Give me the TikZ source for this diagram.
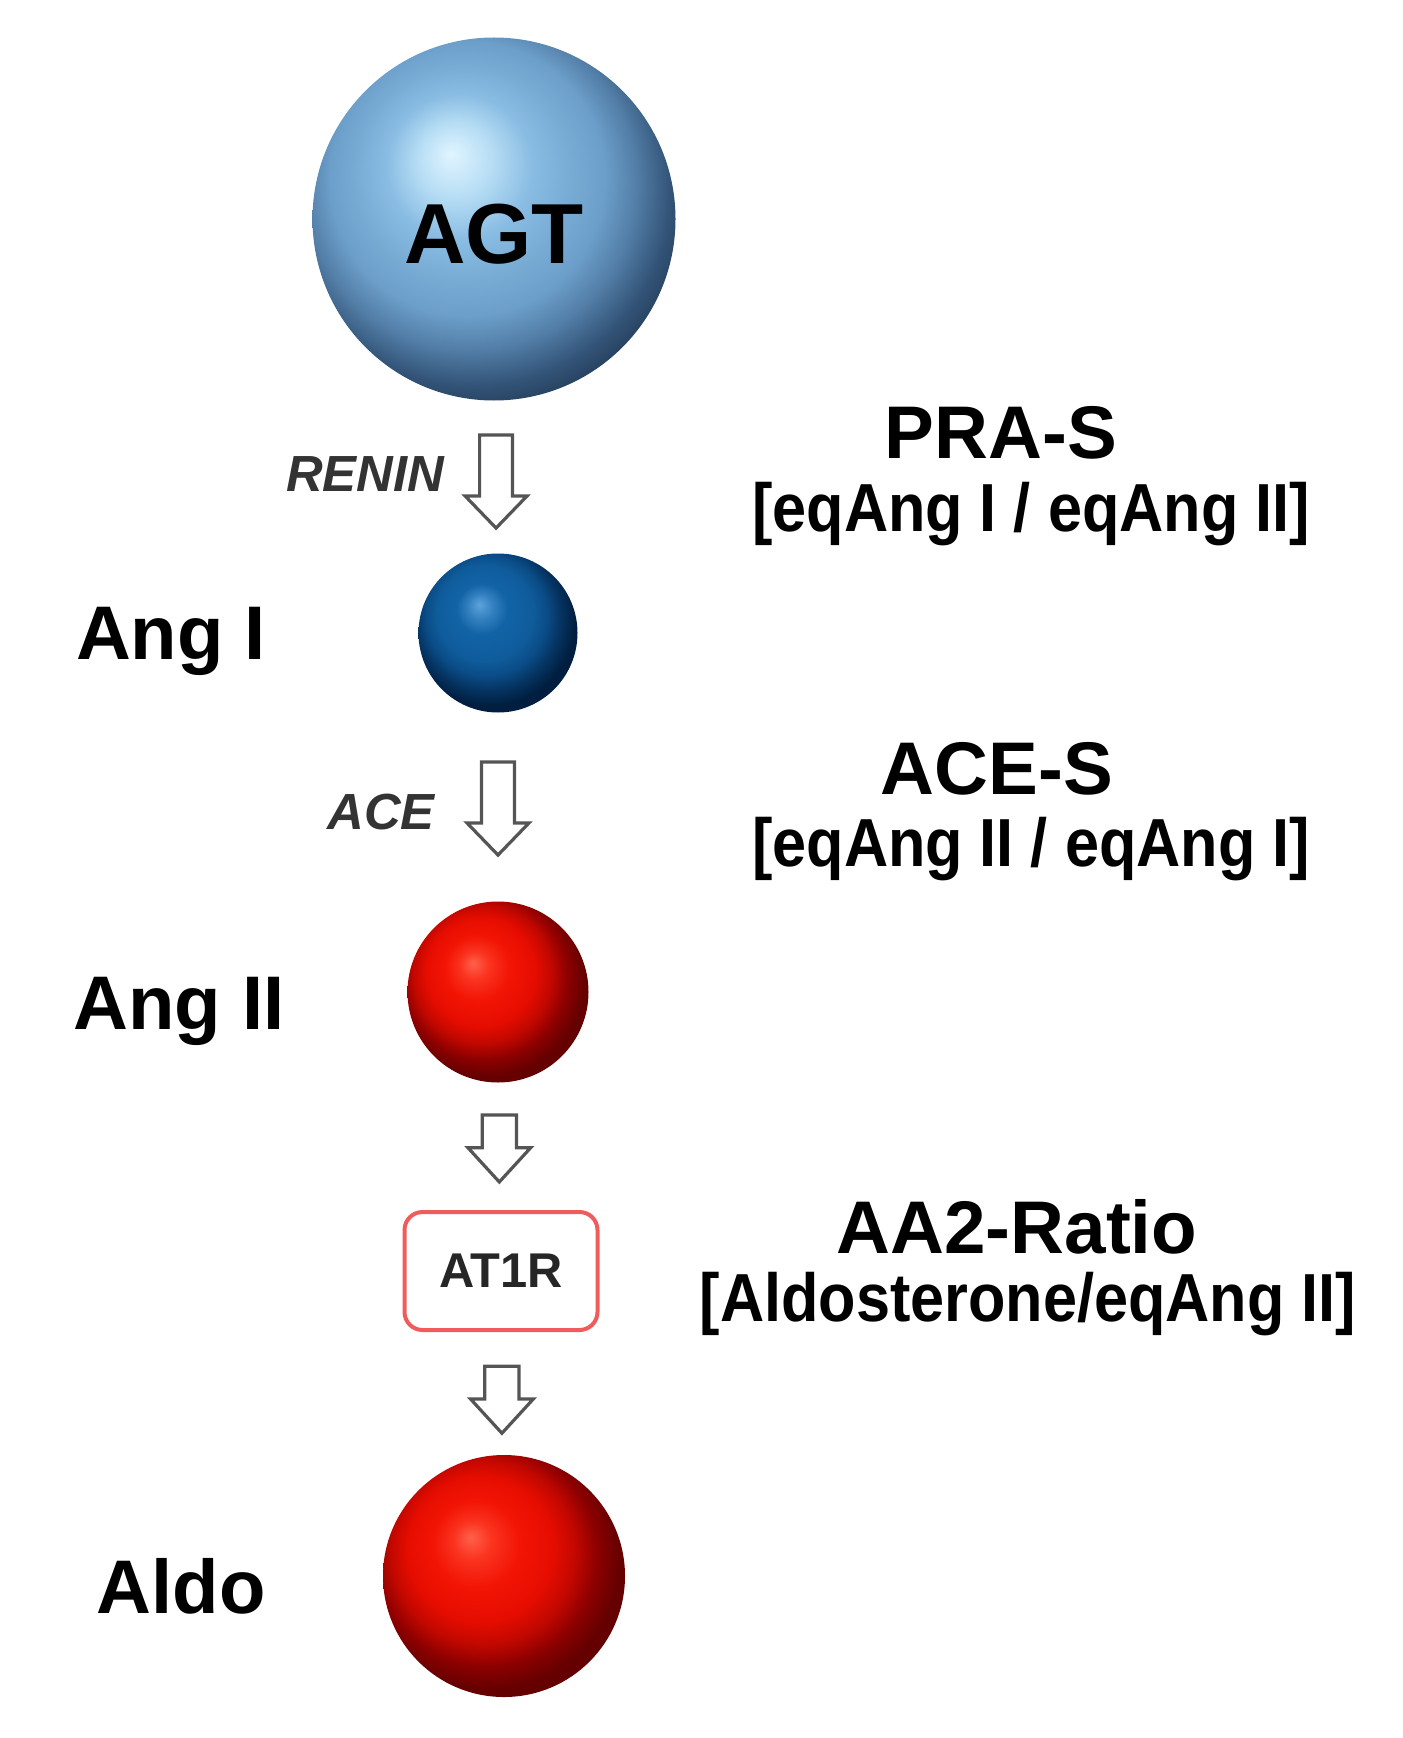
\documentclass[tikz,border=0pt]{standalone}
\usepackage{fontspec}
\setmainfont{Liberation Sans}
\newfontfamily\narrowfont[FakeStretch=0.90]{Liberation Sans}
\usepackage{tikz}
\usetikzlibrary{shapes,arrows}
\usetikzlibrary{calc}
\definecolor{boxred}{RGB}{240,92,92}
\definecolor{arrowgray}{RGB}{85,85,85}
% sphere shadings (light from the upper left)
\pgfdeclareradialshading{agtball}{\pgfpoint{-6bp}{9bp}}{%
    rgb(0bp)=(.88,.96,1); rgb(5bp)=(.72,.87,.96); rgb(10bp)=(.54,.74,.89);
    rgb(15bp)=(.47,.67,.83); rgb(19bp)=(.42,.62,.79); rgb(23bp)=(.32,.49,.65);
    rgb(27bp)=(.2,.33,.47); rgb(31bp)=(.13,.22,.33); rgb(50bp)=(.12,.2,.3)}
\pgfdeclareradialshading{angiball}{\pgfpoint{-6bp}{9bp}}{%
    rgb(0bp)=(.36,.64,.86); rgb(4bp)=(.2,.5,.75); rgb(8bp)=(.07,.39,.65);
    rgb(15bp)=(.06,.36,.61); rgb(19bp)=(.04,.3,.53); rgb(23bp)=(.02,.2,.38);
    rgb(27bp)=(0,.12,.25); rgb(50bp)=(0,.1,.2)}
\pgfdeclareradialshading{redball}{\pgfpoint{-7bp}{8bp}}{%
    rgb(0bp)=(1,.38,.3); rgb(4bp)=(.98,.2,.12); rgb(9bp)=(.95,.08,.02);
    rgb(15bp)=(.9,.05,0); rgb(19bp)=(.76,.03,0); rgb(23bp)=(.55,0,0);
    rgb(27bp)=(.4,0,0); rgb(50bp)=(.35,0,0)}
\tikzstyle{sphere} = [circle, inner sep=0pt]
\tikzstyle{longarrow} = [single arrow, draw=arrowgray, fill=white, line width=1.6pt, rotate=-90,
    anchor=tail, inner xsep=0pt, inner ysep=7.25pt, minimum height=46.5pt, minimum width=31pt,
    single arrow tip angle=88]
\tikzstyle{shortarrow} = [single arrow, draw=arrowgray, fill=white, line width=1.6pt, rotate=-90,
    anchor=tail, inner xsep=0pt, inner ysep=7.75pt, minimum height=33.5pt, minimum width=31pt,
    single arrow tip angle=85]
\tikzstyle{molname} = [font=\bfseries\fontsize{38}{40}\selectfont]
\tikzstyle{enzyme} = [font=\bfseries\itshape\fontsize{25.4}{28}\selectfont, text=black!80]
\tikzstyle{ratio} = [font=\bfseries\fontsize{37.3}{40}\selectfont]
\tikzstyle{formula} = [font=\narrowfont\bfseries\fontsize{34}{38}\selectfont]

\begin{document}
\begin{tikzpicture}[x=0.5pt, y=-0.5pt, node distance=2cm, auto]
    \useasboundingbox (0,0) rectangle (1402,1738);
    % Cascade of spheres
    \node [sphere, shading=agtball, minimum size=181.5pt, text height=44.5pt, text depth=0pt,
        font=\bfseries\fontsize{42.6}{44}\selectfont] (agt) at (494,219) {AGT};
    \node [sphere, shading=angiball, minimum size=79.5pt, below of=agt, node distance=207pt, xshift=2pt] (angi) {};
    \node [sphere, shading=redball, minimum size=90.5pt, below of=angi, node distance=179.5pt] (angii) {};
    \node [rectangle, draw=boxred, line width=2pt, rounded corners=9pt, minimum width=96.5pt,
        minimum height=59pt, text=black!85, font=\bfseries\fontsize{24.4}{26}\selectfont,
        below of=angii, node distance=139.5pt, xshift=1.5pt] (at1r) {AT1R};
    \node [sphere, shading=redball, minimum size=121pt, below of=at1r, node distance=152.5pt, xshift=1.5pt] (aldo) {};
    % Names on the left
    \node [molname, left of=angi, node distance=163.5pt, yshift=-4pt] (angilabel) {Ang I};
    \node [molname, left of=angii, node distance=159.5pt, yshift=-9.5pt] (angiilabel) {Ang II};
    \node [molname, left of=aldo, node distance=161.5pt, yshift=-5pt] (aldolabel) {Aldo};
    % Hollow arrows
    \node [longarrow] (renin) at ($(agt)!0.518!(angi)$) {};
    \node [enzyme] (reninlabel) at ($(renin.tail)+(-131,40.5)$) {RENIN};
    \node [longarrow] (ace) at ($(angi)!0.355!(angii)$) {};
    \node [enzyme] (acelabel) at ($(ace.tail)+(-117,51.5)$) {ACE};
    \node [shortarrow] (binding) at ($(angii)!0.435!(at1r)$) {};
    \node [shortarrow] (release) at ($(at1r)!0.307!(aldo)$) {};
    % Ratios on the right
    \node [ratio] (pras) at (1001,433) {PRA-S};
    \node [formula] (prasformula) at (1031,514) {[eqAng I / eqAng II]};
    \node [ratio] (aces) at (997,769) {ACE-S};
    \node [formula] (acesformula) at (1031,849) {[eqAng II / eqAng I]};
    \node [ratio] (aatwo) at (1017,1227) {AA2-Ratio};
    \node [formula] (aatwoformula) at (1028,1304) {[Aldosterone/eqAng II]};
\end{tikzpicture}
\end{document}
